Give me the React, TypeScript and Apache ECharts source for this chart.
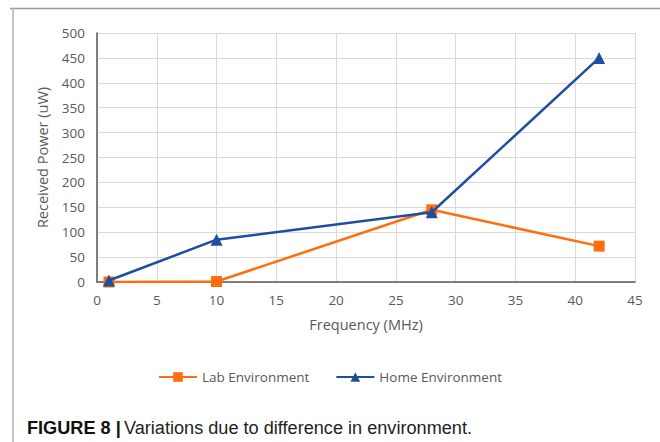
import React, { useEffect, useRef } from "react";
import * as echarts from "echarts";

const frequencies = [1, 10, 28, 42];
const labValues = [0, 1, 145, 72];
const homeValues = [3, 85, 140, 450];
const seriesNames = ["Lab Environment", "Home Environment"];
const xAxisTitle = "Frequency (MHz)";
const yAxisTitle = "Received Power (uW)";
const captionBold = "FIGURE 8 |";
const captionText = "Variations due to difference in environment.";

export default function App() {
  const ref = useRef<HTMLDivElement>(null);
  useEffect(() => {
    if (!ref.current) return;
    const chart = echarts.init(ref.current, undefined, { renderer: "svg" });
    const tickFont = { color: "#595959", fontSize: 13.5, fontFamily: "Open Sans" };
    chart.setOption({
      animation: false,
      backgroundColor: "#ffffff",
      grid: { left: 97, right: 25, top: 33, bottom: 160, containLabel: false },
      xAxis: {
        type: "value",
        min: 0,
        max: 45,
        interval: 5,
        name: xAxisTitle,
        nameLocation: "middle",
        nameGap: 35,
        nameTextStyle: { color: "#595959", fontSize: 14.5, fontFamily: "Open Sans" },
        axisLine: { show: true, lineStyle: { color: "#595959", width: 1.5 } },
        axisTick: { show: false },
        axisLabel: { ...tickFont, margin: 11 },
        splitLine: { show: true, lineStyle: { color: "#d9d9d9", width: 1 } },
      },
      yAxis: {
        type: "value",
        min: 0,
        max: 500,
        interval: 50,
        name: yAxisTitle,
        nameLocation: "middle",
        nameGap: 47,
        nameTextStyle: { color: "#595959", fontSize: 14.5, fontFamily: "Open Sans" },
        axisLine: { show: true, lineStyle: { color: "#595959", width: 1.5 } },
        axisTick: { show: false },
        axisLabel: { ...tickFont, margin: 12 },
        splitLine: { show: true, lineStyle: { color: "#d9d9d9", width: 1 } },
      },
      legend: {
        top: 365,
        left: "center",
        itemGap: 26,
        itemWidth: 38,
        itemHeight: 12,
        textStyle: { color: "#595959", fontSize: 13.5, fontFamily: "Open Sans" },
        data: seriesNames,
      },
      series: [
        {
          name: seriesNames[0],
          type: "line",
          data: frequencies.map((f, i) => [f, labValues[i]]),
          symbol: "rect",
          symbolSize: 11,
          color: "#ff6d0d",
          lineStyle: { width: 2.5, color: "#ff6d0d" },
          itemStyle: { color: "#ff6d0d" },
          z: 2,
        },
        {
          name: seriesNames[1],
          type: "line",
          data: frequencies.map((f, i) => [f, homeValues[i]]),
          symbol: "triangle",
          symbolSize: 12,
          color: "#1f4e9e",
          lineStyle: { width: 2.5, color: "#1f4e9e" },
          itemStyle: { color: "#1f4e9e" },
          z: 3,
        },
      ],
      graphic: [
        { type: "line", shape: { x1: 10, y1: 8.5, x2: 660, y2: 8.5 }, style: { stroke: "#9a9a9a", lineWidth: 1.5 } },
        { type: "line", shape: { x1: 13, y1: 8, x2: 13, y2: 442 }, style: { stroke: "#b0b0b0", lineWidth: 1.5 } },
        {
          type: "text",
          x: 27,
          y: 418,
          scaleX: 0.955,
          style: {
            rich: {
              b: { fontWeight: "bold", fontFamily: "Liberation Sans", fontSize: 19, fill: "#111" },
              n: { fontFamily: "Liberation Sans", fontSize: 19, fill: "#222" },
            },
            text: `{b|${captionBold}} {n|${captionText}}`,
          },
        },
      ],
    });
    return () => chart.dispose();
  }, []);
  return <div ref={ref} style={{ width: 660, height: 442, position: "absolute", left: 0, top: 0 }} />;
}
